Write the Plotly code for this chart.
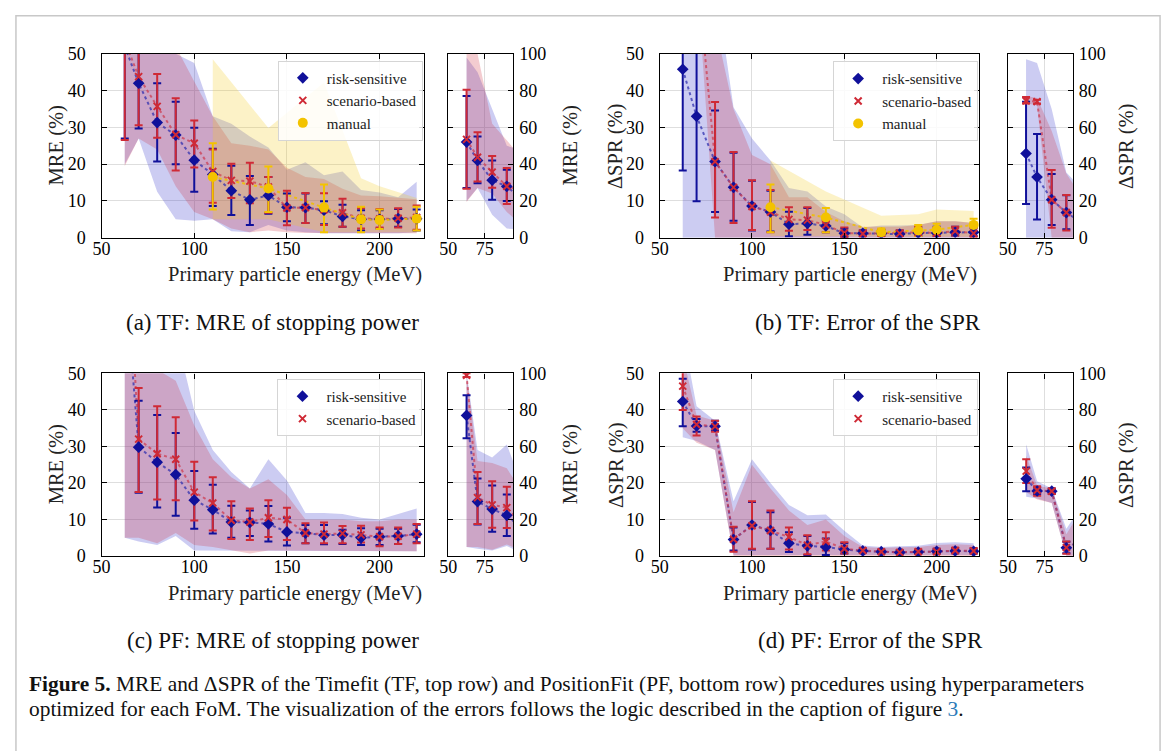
import numpy as np
import plotly.graph_objects as go

W, H = 1167, 751


def px(x):
    return x / W


def py(y):
    return 1 - y / H


# ---------------- data ----------------
E = [62.5, 70, 80, 90, 100, 110, 120, 130, 140, 150, 160, 170, 180, 190, 200, 210, 220]
E_MAN = [110, 140, 170, 190, 200, 220]

# (a) TF: MRE
a_rs = [52, 42, 31.3, 27.9, 21.1, 17.2, 12.8, 10.3, 11.5, 8.3, 8.2, 7.5, 5.8, 5.0, 5.0, 5.2, 5.2]
a_rs_lo = [27, 29.7, 20.7, 20, 12.5, 8.6, 6.2, 3.5, 6.5, 4.5, 4.0, 3.7, 3.0, 2.0, 2.5, 3.0, 2.0]
a_rs_hi = [77, 55, 42, 37, 29.9, 24.2, 19.6, 16.8, 16.5, 12, 12, 9.9, 9.0, 7.5, 7.5, 7.8, 7.7]
a_sb = [53.5, 43.8, 35.7, 28, 25.7, 18, 15.6, 15.4, 13.8, 8.1, 8.2, 7.6, 6.8, 5.3, 5.1, 5.3, 5.5]
a_sb_lo = [26.6, 30.6, 27.2, 18.3, 19.1, 9.5, 10.8, 9.4, 6.8, 3.4, 4.0, 3.5, 3.0, 2.5, 2.8, 2.8, 2.2]
a_sb_hi = [80.5, 57.3, 44.5, 37.9, 31.9, 24.0, 20.1, 20.4, 16.5, 12.8, 12.2, 12.1, 10.6, 8.0, 7.8, 8.0, 8.8]
a_m = [16.5, 13.4, 8.2, 5.0, 4.8, 5.2]
a_m_lo = [7.7, 7.0, 1.5, 1.5, 2.4, 2.0]
a_m_hi = [25.7, 19.4, 14.5, 8.4, 7.7, 8.4]
a_rs_band_lo = [20, 27, 12.5, 5, 4.6, 5, 1.8, 1.5, 3.5, 2, 1.5, 1.2, 1.2, 1.2, 1.2, 1.2, 1.5]
a_rs_band_hi = [98, 90, 70, 50, 47.5, 33, 31, 27.5, 24.5, 18.5, 20.5, 17, 18, 13, 12.3, 11, 15.2]
a_sb_band_lo = [19.5, 27, 24, 14, 7, 5, 2.5, 1.5, 2, 1.5, 1.3, 1.2, 1.2, 1.2, 1.2, 1.2, 1.2]
a_sb_band_hi = [100, 100, 62, 52, 42.5, 33, 25.7, 25, 24, 19, 16.5, 16, 13.3, 11.5, 11.3, 10.8, 10.5]
a_m_band_lo = [5, 5, 1.5, 1.5, 1.5, 1.5]
a_m_band_hi = [48.5, 29.8, 42.2, 16.2, 14, 10.8]

# (b) TF: dSPR
b_rs = [45.8, 33, 20.7, 13.7, 8.6, 7.0, 3.7, 3.9, 3.2, 1.2, 1.2, 1.2, 1.0, 1.3, 1.3, 1.5, 1.5]
b_rs_lo = [18.3, 9.9, 7.0, 4.6, 2.0, 1.7, 0.4, 0.8, 1.5, 0.3, 0.5, 0.5, 0.5, 0.5, 0.5, 0.6, 0.5]
b_rs_hi = [74, 56.4, 34.6, 23.1, 15.5, 12.8, 7.1, 8.1, 4.8, 2.5, 2.0, 2.2, 2.0, 2.8, 3.0, 3.0, 2.8]
b_sb = [74.5, 74, 20.7, 13.7, 8.5, 7.0, 5.0, 4.8, 3.5, 1.3, 1.1, 1.2, 1.2, 1.5, 1.3, 1.8, 1.2]
b_sb_lo = [73, 73, 5.5, 4.0, 2.1, 1.5, 1.9, 2.1, 1.5, 0.2, 0.5, 0.5, 0.5, 0.5, 0.5, 0.6, 0.3]
b_sb_hi = [76.5, 75, 36.9, 23.3, 15.6, 13, 8.3, 8.3, 4.5, 2.8, 2.0, 2.2, 2.0, 3.0, 2.8, 3.0, 2.5]
b_m = [8.3, 5.5, 1.5, 2.0, 2.2, 3.5]
b_m_lo = [1.5, 1.5, 0.5, 0.5, 0.7, 1.5]
b_m_hi = [14.5, 8.1, 2.5, 3.5, 3.8, 5.2]
b_rs_band_lo = [0, 0, 0, 0, 0, 0, 0, 0, 0, 0, 0, 0, 0, 0, 0, 0, 0]
b_rs_band_hi = [97, 95, 70, 35.5, 27, 21, 13.5, 12.6, 8.5, 6.4, 2.8, 3.3, 3.3, 3.5, 4.5, 4.5, 4.0]
b_sb_band_lo = [73, 72, 0, 0, 0, 0, 0, 0, 0, 0, 0, 0, 0, 0, 0, 0, 0]
b_sb_band_hi = [77, 76, 58, 35, 22.5, 20, 11, 11, 7, 4.5, 3, 3, 3, 3.5, 4.5, 4.5, 4]
b_m_band_lo = [0.5, 0.5, 0.3, 0.3, 0.3, 0.3]
b_m_band_hi = [21, 12.6, 6, 6.4, 7.7, 7.3]

# (c) PF: MRE
c_rs = [77, 29.8, 25.7, 22.3, 15.3, 12.7, 9.3, 9.2, 8.8, 6.6, 6.3, 5.7, 5.8, 5.0, 5.3, 5.5, 6.0]
c_rs_lo = [64.5, 17.3, 13.3, 11.0, 7.5, 6.2, 5.0, 5.5, 4.0, 2.9, 3.5, 3.2, 3.3, 3.0, 3.0, 3.3, 3.8]
c_rs_hi = [88, 42.5, 38.6, 33.7, 23.3, 19.5, 13.8, 12.5, 13.7, 10.5, 8.5, 8.5, 7.2, 7.6, 7.5, 7.5, 8.6]
c_sb = [99, 32, 28, 26.5, 17.5, 14.5, 9.8, 9.3, 10.5, 10.0, 6.3, 6.0, 6.2, 5.8, 5.3, 5.4, 6.0]
c_sb_lo = [98, 17.5, 15.5, 15.3, 9.7, 7.0, 4.7, 4.4, 5.2, 4.4, 3.5, 3.5, 3.5, 3.7, 2.7, 3.3, 3.5]
c_sb_hi = [100, 46, 41, 38, 25.8, 21.6, 15.0, 13.0, 15.3, 13.2, 9.0, 9.2, 8.2, 8.3, 7.8, 7.8, 8.8]
c_rs_band_lo = [5, 4, 3, 5.5, 1.5, 1.5, 1.5, 1.3, 1.3, 1.3, 1.3, 1.3, 1.3, 1.3, 1.3, 1.3, 1.3]
c_rs_band_hi = [100, 58, 54, 61, 39.8, 29, 23, 18.5, 26.5, 20.7, 11.8, 11.8, 11.5, 10.5, 10, 11.5, 13]
c_sb_band_lo = [5, 5, 3.5, 6.3, 3, 2.5, 1.5, 0.7, 1.5, 1.3, 1.3, 1.3, 1.3, 1.3, 1.3, 1.3, 1.3]
c_sb_band_hi = [100, 52, 51, 48, 35.7, 26.5, 21.6, 18.5, 21, 16.7, 10, 10, 10, 9.5, 9.5, 10, 10]

# (d) PF: dSPR
d_rs = [42.3, 35.6, 35.5, 4.5, 8.5, 7.0, 3.5, 2.8, 2.5, 1.8, 1.4, 1.2, 1.0, 1.1, 1.3, 1.4, 1.3]
d_rs_lo = [35.5, 34.0, 34.3, 1.5, 1.8, 2.0, 1.1, 0.3, 0.3, 0.7, 1.0, 0.8, 0.7, 0.7, 0.8, 0.8, 0.7]
d_rs_hi = [48.5, 37.5, 37.0, 7.8, 14.8, 12.0, 6.5, 5.5, 4.8, 3.5, 2.0, 1.7, 1.5, 1.6, 2.0, 2.2, 2.0]
d_sb = [46.5, 36.0, 35.5, 4.6, 8.3, 7.0, 5.2, 3.0, 4.0, 2.0, 1.5, 1.2, 1.0, 1.2, 1.2, 1.5, 1.4]
d_sb_lo = [40.0, 33.0, 34.0, 1.2, 2.0, 2.0, 1.8, 0.5, 1.5, 0.7, 1.0, 0.8, 0.7, 0.8, 0.8, 0.8, 0.7]
d_sb_hi = [53.0, 38.2, 37.0, 8.0, 15.0, 12.5, 7.8, 5.7, 6.5, 3.8, 2.0, 1.7, 1.5, 1.8, 2.0, 2.3, 2.2]
d_rs_band_lo = [32.5, 31.5, 29, 0.3, 0.3, 0.3, 0.3, 0.3, 0.3, 0.3, 0.3, 0.3, 0.3, 0.3, 0.3, 0.3, 0.3]
d_rs_band_hi = [61, 41, 37, 15, 26.5, 20, 14, 11.2, 11.4, 6.9, 2.9, 2.5, 2.7, 2.8, 3.6, 3.8, 3.5]
d_sb_band_lo = [35, 31, 29, 0, 0, 0, 0, 0, 0, 0, 0, 0, 0, 0, 0, 0, 0]
d_sb_band_hi = [55, 38.5, 37, 12, 25, 18.5, 12.5, 8.5, 10, 5.5, 2.5, 2.2, 2.4, 2.5, 3, 3.2, 3]

# ---------------- style ----------------
FONT = "Liberation Serif"
STYLE = {
    "rs": dict(name="risk-sensitive", color="#10109a", fill="rgba(40,40,200,0.24)",
               line="rgba(50,50,175,0.75)", symbol="diamond", size=9, lw=0),
    "sb": dict(name="scenario-based", color="#cf2a36", fill="rgba(205,40,60,0.24)",
               line="rgba(205,55,75,0.7)", symbol="x-thin", size=7, lw=2),
    "man": dict(name="manual", color="#f3c300", fill="rgba(245,205,30,0.25)",
                line="rgba(240,190,0,0.85)", symbol="circle", size=10, lw=0),
}


def marker_of(st):
    return dict(symbol=st["symbol"], size=st["size"], color=st["color"],
                line=dict(width=st["lw"], color=st["color"]))


fig = go.Figure()


def add_panel(axes_pairs, series_list, legend_id):
    for xa, ya in axes_pairs:
        for kind, x, y, lo, hi, blo, bhi in series_list:
            st = STYLE[kind]
            fig.add_trace(go.Scatter(
                x=list(x) + list(x)[::-1], y=list(bhi) + list(blo)[::-1],
                fill="toself", fillcolor=st["fill"], mode="lines",
                line=dict(width=0), xaxis=xa, yaxis=ya,
                showlegend=False, hoverinfo="skip"))
        for kind, x, y, lo, hi, blo, bhi in series_list:
            st = STYLE[kind]
            fig.add_trace(go.Scatter(
                x=x, y=y, mode="lines", line=dict(color=st["line"], width=2, dash="dot"),
                xaxis=xa, yaxis=ya, showlegend=False, hoverinfo="skip"))
        for kind, x, y, lo, hi, blo, bhi in series_list:
            st = STYLE[kind]
            yv, lv, hv = np.array(y), np.array(lo), np.array(hi)
            fig.add_trace(go.Scatter(
                x=x, y=y, mode="markers",
                marker=dict(size=1, color="rgba(0,0,0,0)"),
                error_y=dict(type="data", symmetric=False, array=hv - yv, arrayminus=yv - lv,
                             color=st["color"], thickness=2, width=4),
                xaxis=xa, yaxis=ya, showlegend=False, hoverinfo="skip"))
        for kind, x, y, lo, hi, blo, bhi in series_list:
            st = STYLE[kind]
            fig.add_trace(go.Scatter(
                x=x, y=y, mode="markers", marker=marker_of(st),
                xaxis=xa, yaxis=ya, showlegend=False, hoverinfo="skip"))
    xa, ya = axes_pairs[0]
    for kind, *_ in series_list:
        st = STYLE[kind]
        fig.add_trace(go.Scatter(
            x=[None], y=[None], mode="markers", name=st["name"], marker=marker_of(st),
            xaxis=xa, yaxis=ya, legend=legend_id, showlegend=True))


add_panel([("x", "y"), ("x2", "y2")], [
    ("rs", E, a_rs, a_rs_lo, a_rs_hi, a_rs_band_lo, a_rs_band_hi),
    ("sb", E, a_sb, a_sb_lo, a_sb_hi, a_sb_band_lo, a_sb_band_hi),
    ("man", E_MAN, a_m, a_m_lo, a_m_hi, a_m_band_lo, a_m_band_hi),
], "legend")
add_panel([("x3", "y3"), ("x4", "y4")], [
    ("rs", E, b_rs, b_rs_lo, b_rs_hi, b_rs_band_lo, b_rs_band_hi),
    ("sb", E, b_sb, b_sb_lo, b_sb_hi, b_sb_band_lo, b_sb_band_hi),
    ("man", E_MAN, b_m, b_m_lo, b_m_hi, b_m_band_lo, b_m_band_hi),
], "legend2")
add_panel([("x5", "y5"), ("x6", "y6")], [
    ("rs", E, c_rs, c_rs_lo, c_rs_hi, c_rs_band_lo, c_rs_band_hi),
    ("sb", E, c_sb, c_sb_lo, c_sb_hi, c_sb_band_lo, c_sb_band_hi),
], "legend3")
add_panel([("x7", "y7"), ("x8", "y8")], [
    ("rs", E, d_rs, d_rs_lo, d_rs_hi, d_rs_band_lo, d_rs_band_hi),
    ("sb", E, d_sb, d_sb_lo, d_sb_hi, d_sb_band_lo, d_sb_band_hi),
], "legend4")

# ---------------- axes ----------------
common = dict(showline=True, linecolor="black", linewidth=1.3, mirror="ticks",
              ticks="inside", ticklen=5, tickwidth=1.2, tickcolor="black",
              showgrid=True, gridcolor="#dedede", gridwidth=1, zeroline=False,
              tickfont=dict(family=FONT, size=18, color="black"))

panels = [
    # main_x, side_x, y_top, y_bottom, xmax
    ((93.3, 418.3), (442.7, 508.3), 45, 234, 224),
    ((655.7, 977.7), (1006.5, 1072.2), 45, 234, 223),
    ((93.3, 418.3), (442.7, 508.3), 373.3, 561, 224),
    ((655.7, 977.7), (1006.7, 1072.2), 373.3, 561, 223),
]
layout_axes = {}
for i, (mx, sx, yt, yb, xmax) in enumerate(panels):
    nm = 2 * i + 1
    ns = 2 * i + 2
    kxm = "xaxis" if nm == 1 else f"xaxis{nm}"
    kym = "yaxis" if nm == 1 else f"yaxis{nm}"
    amx = "x" if nm == 1 else f"x{nm}"
    amy = "y" if nm == 1 else f"y{nm}"
    ydom = [py(yb), py(yt)]
    layout_axes[kxm] = dict(common, domain=[px(mx[0]), px(mx[1])], range=[50, xmax],
                            tickvals=[50, 100, 150, 200], anchor=amy, ticklabelstandoff=-6)
    layout_axes[kym] = dict(common, domain=ydom, range=[0, 50], tickvals=[0, 10, 20, 30, 40, 50],
                            anchor=amx, ticklabelstandoff=11)
    layout_axes[f"xaxis{ns}"] = dict(common, domain=[px(sx[0]), px(sx[1])], range=[50, 94.5],
                                     tickvals=[50, 75], anchor=f"y{ns}", ticklabelstandoff=-6)
    layout_axes[f"yaxis{ns}"] = dict(common, domain=ydom, range=[0, 100],
                                     tickvals=[0, 20, 40, 60, 80, 100], anchor=f"x{ns}",
                                     side="right", ticklabelstandoff=1)

leg_common = dict(xanchor="right", yanchor="top", bgcolor="rgba(255,255,255,0.85)",
                  bordercolor="#d5d5d5", borderwidth=1, itemwidth=38,
                  font=dict(family=FONT, size=15, color="#222"), tracegroupgap=0)

# ---------------- text ----------------
ann = []
tfont = dict(family=FONT, size=20.5, color="#222")
for (mx, sx, yt, yb, xmax), ylab, lx, rx in [
    (panels[0], "MRE (%)", 48, 566),
    (panels[1], "ΔSPR (%)", 612, 1126),
    (panels[2], "MRE (%)", 48, 566),
    (panels[3], "ΔSPR (%)", 612, 1126),
]:
    yc = (yt + yb) / 2
    ann.append(dict(text=ylab, x=px(lx), y=py(yc), xref="paper", yref="paper", textangle=-90,
                    showarrow=False, xanchor="center", yanchor="middle", font=tfont))
    ann.append(dict(text=ylab, x=px(rx), y=py(yc), xref="paper", yref="paper", textangle=-90,
                    showarrow=False, xanchor="center", yanchor="middle", font=tfont))
    ann.append(dict(text="Primary particle energy (MeV)", x=px(mx[1]), y=py(yb + 38),
                    xref="paper", yref="paper", showarrow=False, xanchor="right",
                    yanchor="middle", font=tfont))

cfont = dict(family=FONT, size=23, color="#111")
for txt, x, y in [("(a) TF: MRE of stopping power", 266, 321),
                  ("(b) TF: Error of the SPR", 866, 321),
                  ("(c) PF: MRE of stopping power", 266, 648),
                  ("(d) PF: Error of the SPR", 868, 648)]:
    ann.append(dict(text=txt, x=px(x), y=py(y), xref="paper", yref="paper", showarrow=False,
                    xanchor="center", yanchor="middle", font=cfont))

capfont = dict(family=FONT, size=21.4, color="#111")
ann.append(dict(text="<b>Figure 5.</b> MRE and ΔSPR of the Timefit (TF, top row) and PositionFit "
                     "(PF, bottom row) procedures using hyperparameters",
                x=px(18), y=py(692), xref="paper", yref="paper", showarrow=False,
                xanchor="left", yanchor="middle", font=capfont))
ann.append(dict(text="optimized for each FoM. The visualization of the errors follows the logic "
                     "described in the caption of figure <span style='color:#2b7bb9'>3</span>.",
                x=px(18), y=py(718), xref="paper", yref="paper", showarrow=False,
                xanchor="left", yanchor="middle", font=capfont))

shapes = [dict(type="rect", xref="paper", yref="paper", x0=px(7), x1=px(1160), y0=py(6),
               y1=py(800), line=dict(color="#c8c8c8", width=1.5), fillcolor="rgba(0,0,0,0)")]

fig.update_layout(
    width=W, height=H, autosize=False, margin=dict(l=0, r=0, t=0, b=0),
    paper_bgcolor="white", plot_bgcolor="white",
    legend=dict(leg_common, x=px(417), y=py(52)),
    legend2=dict(leg_common, x=px(976.7), y=py(52.7)),
    legend3=dict(leg_common, x=px(416.7), y=py(379)),
    legend4=dict(leg_common, x=px(976.7), y=py(379)),
    annotations=ann, shapes=shapes,
    **layout_axes,
)

fig.write_html("out.html")
